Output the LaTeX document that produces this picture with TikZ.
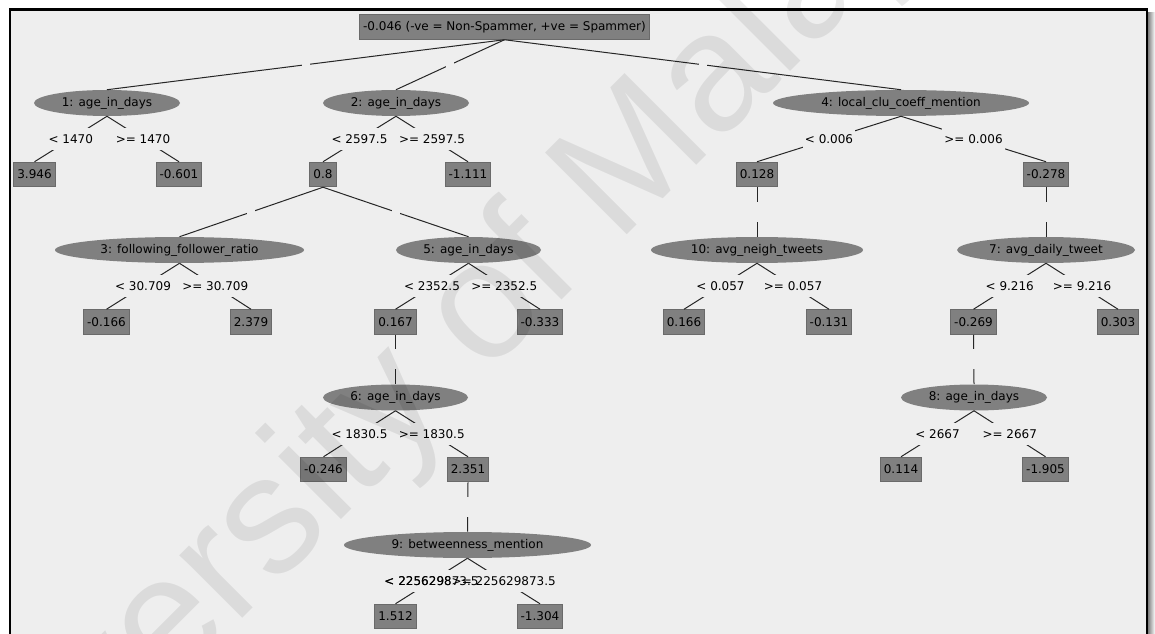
\documentclass[tikz,border=0pt]{standalone}
\usepackage{fontspec}
\setmainfont{DejaVu Sans}
\newfontfamily\wmfont{Liberation Sans}
\usetikzlibrary{shapes.geometric}
\definecolor{bgc}{HTML}{EEEEEE}
\definecolor{boxc}{HTML}{808080}
\definecolor{boxd}{HTML}{6A6A6A}
\definecolor{wmc}{HTML}{000000}
\begin{document}
\begin{tikzpicture}[x=0.75pt,y=-0.75pt,
 every node/.style={font=\fontsize{9pt}{11pt}\selectfont, text=black},
 pbox/.style={rectangle, fill=boxc, draw=boxd, line width=0.75pt, minimum height=24.5*0.75pt, inner xsep=3.5*0.75pt, inner ysep=0pt},
 spl/.style={ellipse, fill=boxc, draw=none, minimum height=26*0.75pt, minimum width=#1*0.75pt, inner sep=0pt},
 conn/.style={draw=black!85, line width=0.75pt},
 lbl/.style={fill=bgc, inner xsep=2*0.75pt, inner ysep=0pt, minimum height=22*0.75pt},
 gapnode/.style={fill=bgc, inner sep=0pt, minimum width=8*0.75pt, minimum height=20*0.75pt},
 wm/.style={font=\wmfont\fontsize{126pt}{126pt}\selectfont, text=wmc, text opacity=0.08, inner sep=0pt}
]
\useasboundingbox (0,0) rectangle (1155,634);
\begin{scope}
\clip (0,0) rectangle (1155,634);
% background and frame
\fill[white] (0,0) rectangle (1155,634);
\shade[left color=black!50, right color=white] (1148,13) rectangle (1155,700);
\fill[bgc] (10,9.5) rectangle (1147,700);
\draw[black, line width=2.5*0.75pt] (10,9.5) rectangle (1147,700);

% nodes
\node[pbox] (r) at (504.5,27) {-0.046 (-ve = Non-Spammer, +ve = Spammer)};
\node[spl=146] (s1) at (107,103) {1: age\_in\_days};
\node[spl=146] (s2) at (396,103) {2: age\_in\_days};
\node[spl=256] (s4) at (901,103) {4: local\_clu\_coeff\_mention};
\node[pbox] (b1a) at (34.5,174.5) {3.946};
\node[pbox] (b1b) at (179,174.5) {-0.601};
\node[pbox] (b2a) at (323,174.5) {0.8};
\node[pbox] (b2b) at (468,174.5) {-1.111};
\node[pbox] (b4a) at (757,174.5) {0.128};
\node[pbox] (b4b) at (1046,174.5) {-0.278};
\node[spl=249] (s3) at (179.5,250) {3: following\_follower\_ratio};
\node[spl=145] (s5) at (468.5,250) {5: age\_in\_days};
\node[spl=212] (s10) at (757,250) {10: avg\_neigh\_tweets};
\node[spl=178] (s7) at (1046,250) {7: avg\_daily\_tweet};
\node[pbox] (b3a) at (106.5,322) {-0.166};
\node[pbox] (b3b) at (251,322) {2.379};
\node[pbox] (b5a) at (395.5,322) {0.167};
\node[pbox] (b5b) at (540,322) {-0.333};
\node[pbox] (b10a) at (684,322) {0.166};
\node[pbox] (b10b) at (829,322) {-0.131};
\node[pbox] (b7a) at (973.5,322) {-0.269};
\node[pbox] (b7b) at (1118,322) {0.303};
\node[spl=145] (s6) at (395.5,397.5) {6: age\_in\_days};
\node[spl=146] (s8) at (974,397.5) {8: age\_in\_days};
\node[pbox] (b6a) at (323.5,469.5) {-0.246};
\node[pbox] (b6b) at (468,469.5) {2.351};
\node[pbox] (b8a) at (901,469.5) {0.114};
\node[pbox] (b8b) at (1045.5,469.5) {-1.905};
\node[spl=247] (s9) at (467.5,545) {9: betweenness\_mention};
\node[pbox] (b9a) at (395.5,616.5) {1.512};
\node[pbox] (b9b) at (540,616.5) {-1.304};

% unlabeled connectors
\draw[conn] (r.south) -- node[gapnode]{} (s1.north);
\draw[conn] (r.south) -- node[gapnode]{} (s2.north);
\draw[conn] (r.south) -- node[gapnode]{} (s4.north);
\draw[conn] (b2a.south) -- node[gapnode]{} (s3.north);
\draw[conn] (b2a.south) -- node[gapnode]{} (s5.north);
\draw[conn] (b4a.south) -- node[gapnode]{} (s10.north);
\draw[conn] (b4b.south) -- node[gapnode]{} (s7.north);
\draw[conn] (b5a.south) -- node[gapnode]{} (s6.north);
\draw[conn] (b7a.south) -- node[gapnode]{} (s8.north);
\draw[conn] (b6b.south) -- node[gapnode]{} (s9.north);

% labeled connectors
\draw[conn] (s1.south) -- node[lbl]{< 1470} (b1a.north);
\draw[conn] (s1.south) -- node[lbl]{>= 1470} (b1b.north);
\draw[conn] (s2.south) -- node[lbl]{< 2597.5} (b2a.north);
\draw[conn] (s2.south) -- node[lbl]{>= 2597.5} (b2b.north);
\draw[conn] (s4.south) -- node[lbl]{< 0.006} (b4a.north);
\draw[conn] (s4.south) -- node[lbl]{>= 0.006} (b4b.north);
\draw[conn] (s3.south) -- node[lbl]{< 30.709} (b3a.north);
\draw[conn] (s3.south) -- node[lbl]{>= 30.709} (b3b.north);
\draw[conn] (s5.south) -- node[lbl]{< 2352.5} (b5a.north);
\draw[conn] (s5.south) -- node[lbl]{>= 2352.5} (b5b.north);
\draw[conn] (s10.south) -- node[lbl]{< 0.057} (b10a.north);
\draw[conn] (s10.south) -- node[lbl]{>= 0.057} (b10b.north);
\draw[conn] (s7.south) -- node[lbl]{< 9.216} (b7a.north);
\draw[conn] (s7.south) -- node[lbl]{>= 9.216} (b7b.north);
\draw[conn] (s6.south) -- node[lbl]{< 1830.5} (b6a.north);
\draw[conn] (s6.south) -- node[lbl]{>= 1830.5} (b6b.north);
\draw[conn] (s8.south) -- node[lbl]{< 2667} (b8a.north);
\draw[conn] (s8.south) -- node[lbl]{>= 2667} (b8b.north);
\draw[conn] (s9.south) -- node[lbl] (l9a) {< 225629873.5} (b9a.north);
\draw[conn] (s9.south) -- node[lbl] (l9b) {>= 225629873.5} (b9b.north);
\node[lbl, fill=none] (l9c) at (l9a.center) {< 225629873.5};

% watermark
\node[wm, rotate=45] (wmk) at (435,365) {University of Malaya};
\end{scope}
\end{tikzpicture}
\end{document}
